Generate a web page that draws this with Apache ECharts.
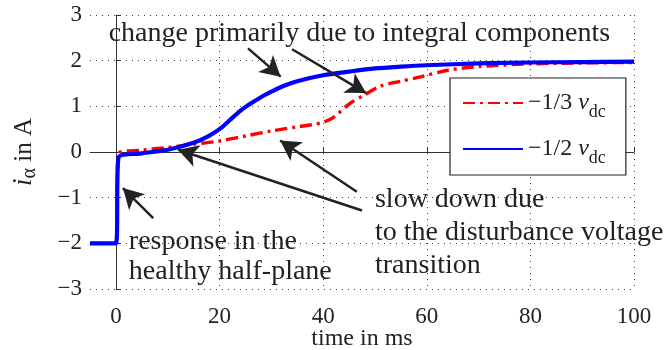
<!DOCTYPE html>
<html>
<head>
<meta charset="utf-8">
<script src="https://cdn.jsdelivr.net/npm/echarts@6/dist/echarts.min.js"></script>
<style>html,body{margin:0;padding:0;background:#fff;}#c{width:667px;height:350px;}</style>
</head>
<body>
<div id="c"></div>
<script>
// ---- data ----
const xTicks = [0, 20, 40, 60, 80, 100];
const tRed = [-5, 0, 0.5, 5, 10, 15, 20, 25, 30, 35, 38, 40, 42, 45, 48, 51, 55, 59, 64, 70, 80, 90, 100];
const vRed = [-2, -2, -0.03, 0.04, 0.1, 0.17, 0.24, 0.35, 0.46, 0.55, 0.6, 0.65, 0.76, 1.05, 1.25, 1.44, 1.55, 1.65, 1.79, 1.87, 1.93, 1.95, 1.96];
const tBlue = [-5, 0, 0.5, 5, 10, 15, 17.6, 20, 22, 24, 26, 28, 30, 32, 35, 40, 45, 50, 55, 60, 70, 80, 90, 100];
const vBlue = [-2, -2, -0.12, -0.03, 0.05, 0.2, 0.33, 0.5, 0.7, 0.9, 1.06, 1.2, 1.32, 1.43, 1.55, 1.68, 1.76, 1.83, 1.87, 1.9, 1.94, 1.96, 1.97, 1.98];
const seriesNames = ['-1/3 vdc', '-1/2 vdc'];
// annotation arrows: [start, tip] in data coordinates
const arrows = [
  [[25.5, 2.27], [31.8, 1.65]],
  [[34.0, 2.25], [48.3, 1.29]],
  [[46.5, -0.87], [31.7, 0.25]],
  [[47.5, -1.28], [12.0, 0.05]],
  [[7.2, -1.45], [1.35, -0.79]]
];
const notes = [
  {at: [-1.4, 2.59], text: 'change primarily due to integral components', lh: 30},
  {at: [50.0, -1.77], text: 'slow down due\nto the disturbance voltage\ntransition', lh: 33},
  {at: [2.5, -2.29], text: 'response in the\nhealthy half-plane', lh: 30}
];

const FONT = '"Liberation Serif", "DejaVu Serif", serif';
const TXT = '#222';
const chart = echarts.init(document.getElementById('c'), null, {renderer: 'canvas'});
const pairs = (t, v) => t.map((x, i) => [x, v[i]]);

const option = {
  animation: false,
  backgroundColor: '#fff',
  grid: {left: 90, right: 33, top: 15, bottom: 61, containLabel: false, outerBoundsMode: 'none'},
  xAxis: {
    type: 'value', min: -5, max: 100,
    name: 'time in ms', nameLocation: 'middle', nameGap: 38, nameMoveOverlap: false,
    nameTextStyle: {fontFamily: FONT, fontSize: 24, color: TXT},
    axisLine: {show: true, lineStyle: {color: '#333', width: 1}},
    axisTick: {show: true, inside: true, length: 5, customValues: xTicks, lineStyle: {color: '#333'}},
    axisLabel: {customValues: xTicks, fontFamily: FONT, fontSize: 23, color: TXT, margin: 16},
    splitLine: {show: true, lineStyle: {color: '#444', type: [1, 5], width: 1}}
  },
  yAxis: {
    type: 'value', min: -3, max: 3, interval: 1,
    name: '{i|i}{a|α}{n| in A}', nameLocation: 'middle', nameGap: 50, nameRotate: 90, nameMoveOverlap: false,
    nameTextStyle: {fontFamily: FONT, fontSize: 24, color: TXT,
      rich: {
        i: {fontFamily: FONT, fontSize: 27, fontStyle: 'italic', color: TXT},
        a: {fontFamily: FONT, fontSize: 20, color: TXT, padding: [12, 0, 0, 0], verticalAlign: 'bottom'},
        n: {fontFamily: FONT, fontSize: 25, color: TXT}
      }},
    axisLine: {show: true, lineStyle: {color: '#333', width: 1}},
    axisTick: {show: true, inside: true, length: 5, lineStyle: {color: '#333'}},
    axisLabel: {fontFamily: FONT, fontSize: 23, color: TXT, margin: 8,
      formatter: v => (v < 0 ? '\u2212' + Math.abs(v) : String(v))},
    splitLine: {show: true, lineStyle: {color: '#444', type: [1, 5], width: 1}}
  },
  legend: {
    data: seriesNames,
    orient: 'vertical', left: 450, top: 78,
    padding: [13, 20, 8, 12], itemGap: 16,
    itemWidth: 60, itemHeight: 14,
    itemStyle: {opacity: 0},
    borderColor: '#222', borderWidth: 1.2, backgroundColor: '#fff',
    formatter: n => n === seriesNames[0] ? '{a|\u22121/3 }{v|v}{s|dc}' : '{a|\u22121/2 }{v|v}{s|dc}',
    textStyle: {fontFamily: FONT, fontSize: 24, color: TXT,
      rich: {
        a: {fontFamily: FONT, fontSize: 24, color: TXT},
        v: {fontFamily: FONT, fontSize: 24, fontStyle: 'italic', color: TXT},
        s: {fontFamily: FONT, fontSize: 18, color: TXT, padding: [18, 0, 0, 0], verticalAlign: 'bottom'}
      }}
  },
  series: [
    {
      name: seriesNames[0], type: 'line', data: pairs(tRed, vRed), showSymbol: false, symbol: 'circle',
      smooth: 0.3, lineStyle: {color: '#ff0000', width: 3.4, type: [12, 5, 3, 5]}, itemStyle: {color: '#ff0000'}, z: 3
    },
    {
      name: seriesNames[1], type: 'line', data: pairs(tBlue, vBlue), showSymbol: false, symbol: 'circle',
      smooth: 0.3, lineStyle: {color: '#0000ff', width: 4.2}, itemStyle: {color: '#0000ff'}, z: 4
    },
    {
      name: 'annot', type: 'line', data: [], z: 6,
      markLine: {
        silent: true, animation: false,
        symbol: ['none', 'arrow'], symbolSize: [17, 20],
        lineStyle: {color: '#222', width: 2.5, type: 'solid'},
        label: {show: false},
        data: arrows.map(a => [{coord: a[0]}, {coord: a[1]}])
      },
      markPoint: {
        silent: true, animation: false, symbol: 'circle', symbolSize: 0,
        data: notes.map(n => ({
          coord: n.at,
          label: {show: true, position: 'right', distance: 0, formatter: n.text,
            fontFamily: FONT, fontSize: 28, color: TXT, lineHeight: n.lh, align: 'left'}
        }))
      }
    }
  ]
};
chart.setOption(option);
</script>
</body>
</html>
